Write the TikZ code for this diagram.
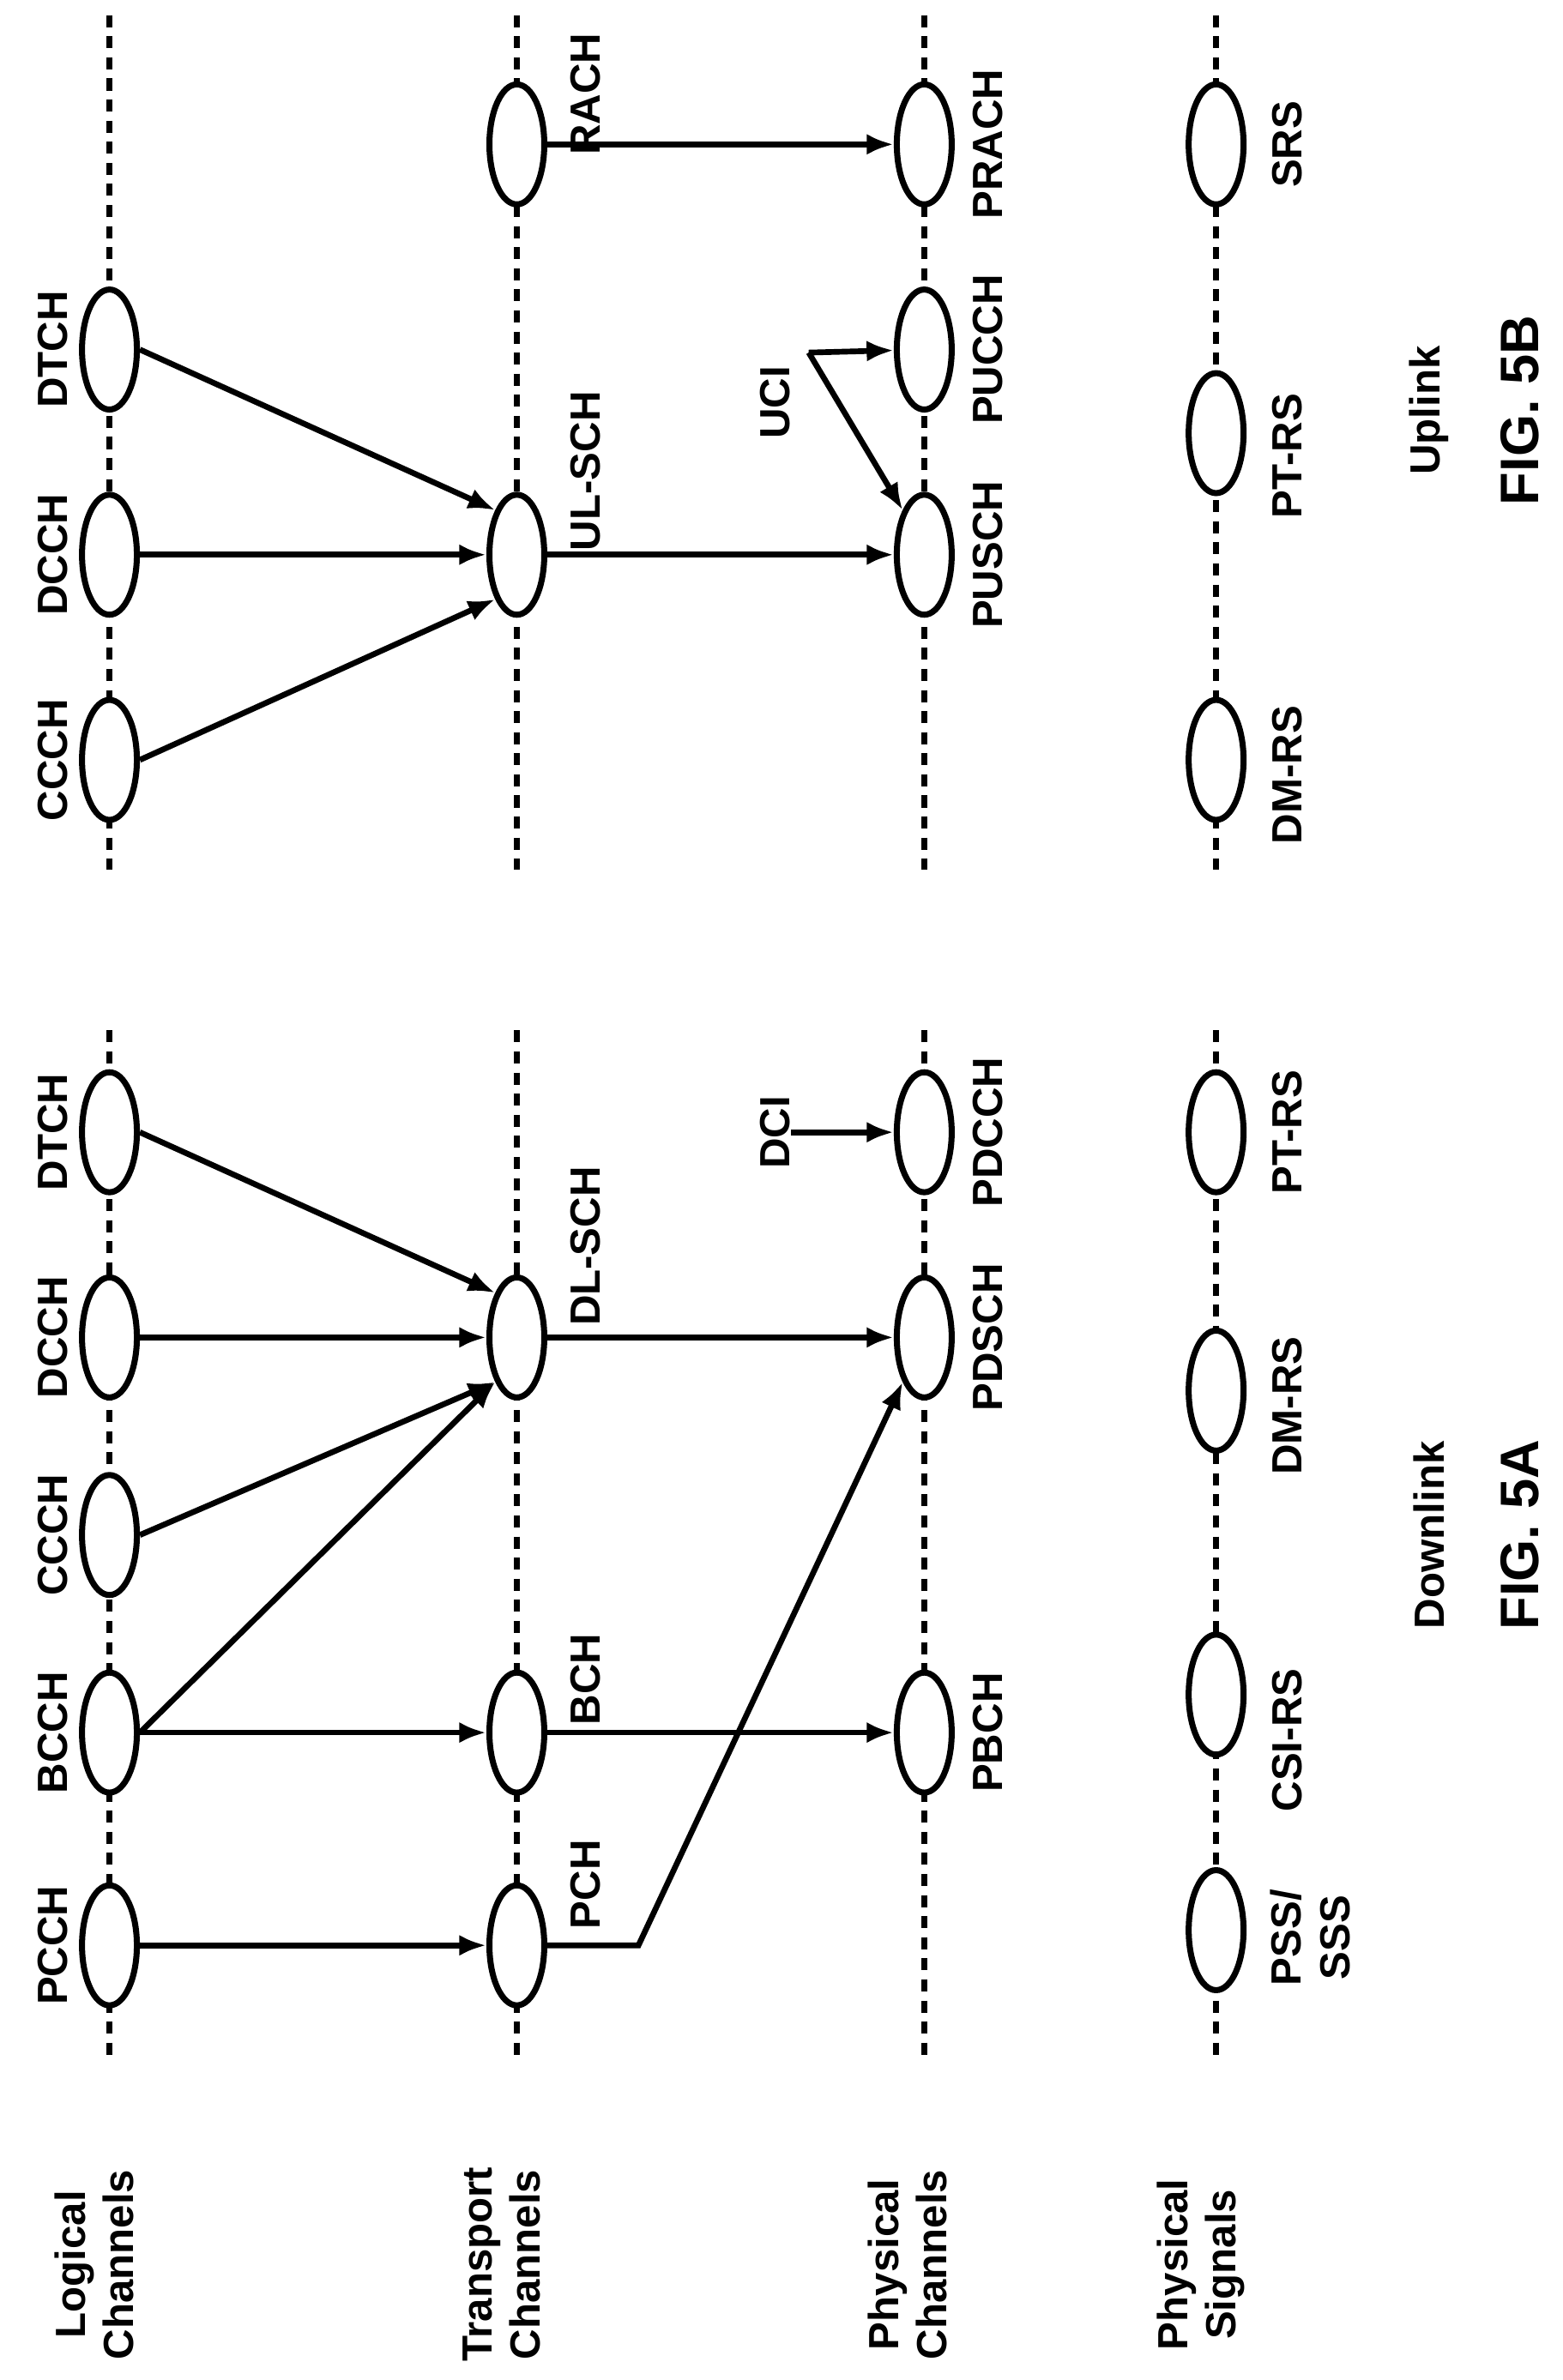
\documentclass[tikz,border=0pt]{standalone}
\usepackage{fontspec}
\setmainfont{Liberation Sans}
\usetikzlibrary{shapes.geometric, arrows.meta}
\tikzstyle{chan} = [ellipse, draw=black, fill=white, line width=2pt, minimum width=0.64cm, minimum height=1.4cm, inner sep=0pt]
\tikzstyle{lbl} = [rotate=90, font=\fontsize{14}{16}\selectfont\bfseries, align=center, inner sep=0pt]
\tikzstyle{layer} = [line width=1.8pt, dash pattern=on 4pt off 3pt]
\tikzstyle{arrow} = [line width=1.9pt, -{Latex[length=9pt, width=7pt]}]

\begin{document}
\begin{tikzpicture}[x=0.017724cm, y=-0.017724cm]
    \useasboundingbox (0,0) rectangle (1028,1566);
    % layers
    \foreach \x in {72, 340, 608, 800} {
        \draw [layer] (\x,10) -- (\x,572);
        \draw [layer] (\x,678) -- (\x,1357);
    }
    \node [lbl] at (62,1490) {Logical\\Channels};
    \node [lbl] at (330,1490) {Transport\\Channels};
    \node [lbl] at (597,1490) {Physical\\Channels};
    \node [lbl] at (790,1490) {Physical\\Signals};

    % Fig. 5A downlink
    \node (pcch) [chan] at (72,1280) {};
    \node (bcch) [chan] at (72,1140) {};
    \node (ccch) [chan] at (72,1010) {};
    \node (dcch) [chan] at (72,880) {};
    \node (dtch) [chan] at (72,745) {};
    \node (pch) [chan] at (340,1280) {};
    \node (bch) [chan] at (340,1140) {};
    \node (dlsch) [chan] at (340,880) {};
    \node (pbch) [chan] at (608,1140) {};
    \node (pdsch) [chan] at (608,880) {};
    \node (pdcch) [chan] at (608,745) {};
    \node (pss) [chan] at (800,1270) {};
    \node (csirs) [chan] at (800,1115) {};
    \node (dmrsA) [chan] at (800,915) {};
    \node (ptrsA) [chan] at (800,745) {};

    \node [lbl] at (35,1280) {PCCH};
    \node [lbl] at (35,1140) {BCCH};
    \node [lbl] at (35,1010) {CCCH};
    \node [lbl] at (35,880) {DCCH};
    \node [lbl] at (35,745) {DTCH};
    \node [lbl] at (385,1240) {PCH};
    \node [lbl] at (385,1105) {BCH};
    \node [lbl] at (385,820) {DL-SCH};
    \node [lbl] at (650,1140) {PBCH};
    \node [lbl] at (650,880) {PDSCH};
    \node [lbl] at (650,745) {PDCCH};
    \node [lbl] at (862,1275) {PSS/\\SSS};
    \node [lbl] at (847,1145) {CSI-RS};
    \node [lbl] at (847,925) {DM-RS};
    \node [lbl] at (847,745) {PT-RS};
    \node (dci) [lbl] at (510,745) {DCI};
    \node [lbl] at (940,1010) {Downlink};
    \node [lbl, font=\fontsize{18}{20}\selectfont\bfseries] at (1000,1010) {FIG. 5A};

    \draw [arrow] (pcch) -- (pch);
    \draw [arrow] (bcch) -- (bch);
    \draw [arrow] (bch) -- (pbch);
    \draw [arrow] (bcch.east) -- (dlsch.south west);
    \draw [arrow] (ccch.east) -- (dlsch.south west);
    \draw [arrow] (dcch) -- (dlsch);
    \draw [arrow] (dtch.east) -- (dlsch.north west);
    \draw [arrow] (dlsch) -- (pdsch);
    \draw [arrow] (pch.east) -- (420,1280) -- (pdsch.south west);
    \draw [arrow] (dci.south) -- (pdcch);

    % Fig. 5B uplink
    \node (ccchB) [chan] at (72,500) {};
    \node (dcchB) [chan] at (72,365) {};
    \node (dtchB) [chan] at (72,230) {};
    \node (ulsch) [chan] at (340,365) {};
    \node (rach) [chan] at (340,95) {};
    \node (pusch) [chan] at (608,365) {};
    \node (pucch) [chan] at (608,230) {};
    \node (prach) [chan] at (608,95) {};
    \node (dmrsB) [chan] at (800,500) {};
    \node (ptrsB) [chan] at (800,285) {};
    \node (srs) [chan] at (800,95) {};

    \node [lbl] at (35,500) {CCCH};
    \node [lbl] at (35,365) {DCCH};
    \node [lbl] at (35,230) {DTCH};
    \node [lbl] at (385,310) {UL-SCH};
    \node [lbl] at (385,62) {RACH};
    \node [lbl] at (650,365) {PUSCH};
    \node [lbl] at (650,230) {PUCCH};
    \node [lbl] at (650,95) {PRACH};
    \node [lbl] at (847,510) {DM-RS};
    \node [lbl] at (847,300) {PT-RS};
    \node [lbl] at (847,95) {SRS};
    \node (uci) [lbl] at (510,265) {UCI};
    \coordinate (ucifork) at (532,232);
    \node [lbl] at (940,270) {Uplink};
    \node [lbl, font=\fontsize{18}{20}\selectfont\bfseries] at (1000,270) {FIG. 5B};

    \draw [arrow] (ccchB.east) -- (ulsch.south west);
    \draw [arrow] (dcchB) -- (ulsch);
    \draw [arrow] (dtchB.east) -- (ulsch.north west);
    \draw [arrow] (ulsch) -- (pusch);
    \draw [arrow] (rach) -- (prach);
    \draw [arrow] (ucifork) -- (pucch);
    \draw [arrow] (ucifork) -- (pusch.north west);
\end{tikzpicture}
\end{document}
